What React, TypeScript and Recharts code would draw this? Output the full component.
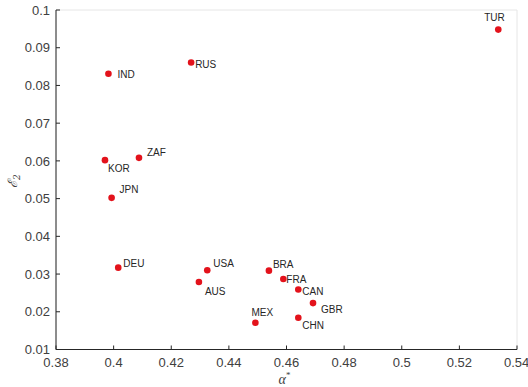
import React from 'react';
import {
  ScatterChart,
  Scatter,
  XAxis,
  YAxis,
  CartesianGrid,
  LabelList,
} from 'recharts';

// country codes and their (alpha*, E2) readings
const countries = ['TUR', 'IND', 'RUS', 'KOR', 'ZAF', 'JPN', 'DEU', 'USA', 'AUS', 'MEX', 'BRA', 'FRA', 'CAN', 'GBR', 'CHN'];
const alphaStar = [0.5335, 0.3982, 0.4269, 0.397, 0.4088, 0.3993, 0.4016, 0.4325, 0.4296, 0.4492, 0.4539, 0.4589, 0.4641, 0.4692, 0.4641];
const epsilon2 = [0.0948, 0.0831, 0.0861, 0.0602, 0.0608, 0.0502, 0.0317, 0.031, 0.0279, 0.0171, 0.0309, 0.0287, 0.0259, 0.0223, 0.0184];

const xTicks = [0.38, 0.4, 0.42, 0.44, 0.46, 0.48, 0.5, 0.52, 0.54];
const yTicks = [0.01, 0.02, 0.03, 0.04, 0.05, 0.06, 0.07, 0.08, 0.09, 0.1];

// where each label sits relative to its dot (text-anchor start, baseline)
const labelOffsets: Record<string, [number, number]> = {
  TUR: [-14, -9],
  IND: [9, 4],
  RUS: [4, 6],
  KOR: [3, 12],
  ZAF: [8, -2],
  JPN: [8, -5],
  DEU: [5, -1],
  USA: [6, -3],
  AUS: [6, 13],
  MEX: [-4, -7],
  BRA: [4, -3],
  FRA: [3, 4],
  CAN: [4, 5],
  GBR: [8, 10],
  CHN: [4, 11],
};

const data = countries.map((name, i) => ({ name, x: alphaStar[i], y: epsilon2[i] }));

const AXIS = '#262626';
const TICK_TEXT = '#404040';
const fmt = (v: number) => String(parseFloat(v.toFixed(2)));

const CountryLabel = (props: any) => {
  const { x, y, width, height, value } = props;
  const cx = x + (width || 0) / 2;
  const cy = y + (height || 0) / 2;
  const [dx, dy] = labelOffsets[value] || [6, 0];
  return (
    <text x={cx + dx} y={cy + dy} fontSize={10} fill={AXIS} fontFamily="Liberation Sans, Arial, sans-serif">
      {value}
    </text>
  );
};

const Dot = (props: any) => <circle cx={props.cx} cy={props.cy} r={3.3} fill="#e3121b" />;

export default function App() {
  return (
    <div style={{ position: 'absolute', left: 0, top: 0, background: '#fff' }}>
      <ScatterChart width={528} height={387} margin={{ top: 10, right: 11, left: 0, bottom: 0 }}>
        <CartesianGrid stroke="#e6e6e6" strokeWidth={1} />
        <XAxis
          xAxisId="b"
          type="number"
          dataKey="x"
          domain={[0.38, 0.54]}
          ticks={xTicks}
          tickFormatter={fmt}
          height={37.5}
          stroke={AXIS}
          tickSize={-4}
          tickMargin={12.5}
          tick={{ fill: TICK_TEXT, fontSize: 13, fontFamily: 'Liberation Sans, Arial, sans-serif' }}
          label={{
            content: (p: any) => {
              const vb = p.viewBox;
              const cx = vb.x + vb.width / 2;
              return (
                <text x={cx - 2} y={384} fontSize={14} fill={TICK_TEXT} fontFamily="Liberation Serif, serif" fontStyle="italic" textAnchor="middle">
                  α<tspan fontSize={9} dy={-6} fontStyle="normal">*</tspan>
                </text>
              );
            },
          }}
        />
        <XAxis
          xAxisId="t"
          orientation="top"
          type="number"
          domain={[0.38, 0.54]}
          ticks={xTicks}
          height={0}
          stroke={AXIS}
          tickSize={-4}
          tick={false}
        />
        <YAxis
          yAxisId="l"
          type="number"
          dataKey="y"
          domain={[0.01, 0.1]}
          ticks={yTicks}
          tickFormatter={fmt}
          width={56}
          stroke={AXIS}
          tickSize={-4}
          tickMargin={10}
          tick={{ fill: TICK_TEXT, fontSize: 13, fontFamily: 'Liberation Sans, Arial, sans-serif' }}
          label={{
            content: () => (
              <text
                x={0}
                y={0}
                transform="translate(17 181) rotate(-90)"
                fontSize={13}
                fill={TICK_TEXT}
                fontFamily="DejaVu Serif, serif"
                fontStyle="italic"
                textAnchor="middle"
              >
                ℰ<tspan fontSize={9} dy={3}>2</tspan>
              </text>
            ),
          }}
        />
        <YAxis
          yAxisId="r"
          orientation="right"
          type="number"
          domain={[0.01, 0.1]}
          ticks={yTicks}
          width={0}
          stroke={AXIS}
          tickSize={-4}
          tick={false}
        />
        <Scatter data={data} xAxisId="b" yAxisId="l" shape={<Dot />} isAnimationActive={false}>
          <LabelList dataKey="name" content={<CountryLabel />} />
        </Scatter>
      </ScatterChart>
    </div>
  );
}
